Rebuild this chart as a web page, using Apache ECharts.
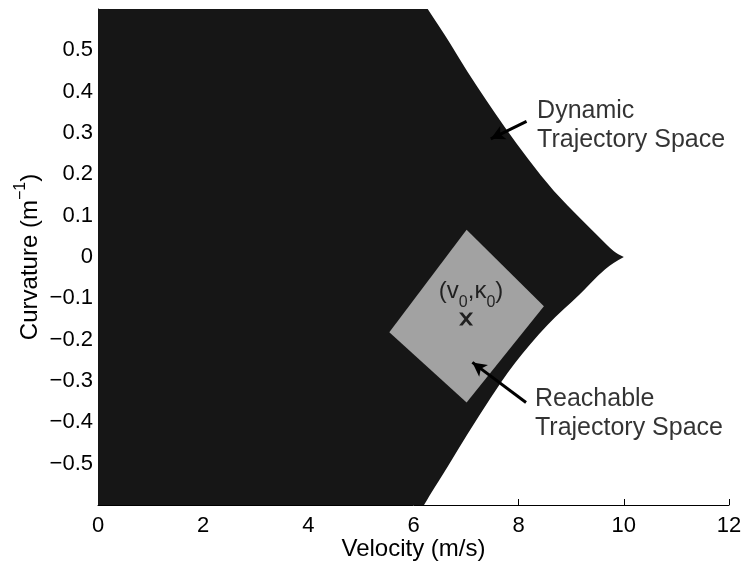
<!DOCTYPE html>
<html>
<head>
<meta charset="utf-8">
<script src="https://cdn.jsdelivr.net/npm/echarts@6/dist/echarts.min.js"></script>
<style>
  html, body { margin: 0; padding: 0; background: #fff; }
  #chart { width: 743px; height: 563px; }
</style>
</head>
<body>
<div id="chart"></div>
<script>
// upper edge of the dynamic trajectory space
const velTop = [6.27, 6.45, 6.64, 7.02, 7.40, 7.75, 8.17, 8.67, 9.18, 9.50, 9.81, 10.0];
const curvTop = [0.6, 0.565, 0.529, 0.449, 0.376, 0.311, 0.238, 0.158, 0.092, 0.052, 0.012, 0];
// lower edge, from the tip back to the bottom
const velBottom = [9.78, 9.50, 9.18, 8.55, 7.90, 7.47, 7.02, 6.64, 6.32, 6.20];
const curvBottom = [-0.015, -0.045, -0.089, -0.162, -0.259, -0.340, -0.429, -0.510, -0.574, -0.6];

// reachable trajectory space (quadrilateral)
const reachVel = [7.01, 8.48, 7.01, 5.54];
const reachCurv = [0.066, -0.119, -0.352, -0.182];

// current state (v0, k0)
const stateVel = [7.0];
const stateCurv = [-0.15];

const xTicks = [0, 2, 4, 6, 8, 10, 12];
const yTicks = [-0.5, -0.4, -0.3, -0.2, -0.1, 0, 0.1, 0.2, 0.3, 0.4, 0.5];

const FONT = "'Liberation Sans', Arial, Helvetica, sans-serif";

const topEdge = velTop.map((v, i) => [v, curvTop[i]]);
const bottomEdge = [[10.0, 0]].concat(velBottom.map((v, i) => [v, curvBottom[i]]));
const reachPts = reachVel.map((v, i) => [v, reachCurv[i]]);

function fmtY(v) {
  const r = Math.round(v * 10) / 10;
  if (!yTicks.some(t => Math.abs(t - r) < 1e-6)) return '';
  if (r === 0) return '0';
  return (r < 0 ? '\u2212' : '') + Math.abs(r).toFixed(1);
}

// smooth curve through points: quadratic segments via midpoints
function smoothPath(pts) {
  let d = 'L' + pts[0][0] + ',' + pts[0][1];
  for (let i = 1; i < pts.length - 1; i++) {
    const mx = (pts[i][0] + pts[i + 1][0]) / 2;
    const my = (pts[i][1] + pts[i + 1][1]) / 2;
    d += ' Q' + pts[i][0] + ',' + pts[i][1] + ' ' + mx + ',' + my;
  }
  const last = pts[pts.length - 1];
  d += ' L' + last[0] + ',' + last[1];
  return d;
}

function dynamicItem(params, api) {
  const tl = api.coord([0, 0.6]);
  const bl = api.coord([0, -0.6]);
  const up = topEdge.map(p => api.coord(p));
  const low = bottomEdge.map(p => api.coord(p));
  let d = 'M' + tl[0] + ',' + tl[1] + ' ';
  d += smoothPath(up) + ' ';
  d += smoothPath(low) + ' ';
  d += 'L' + bl[0] + ',' + bl[1] + ' Z';
  return {
    type: 'path',
    shape: { pathData: d },
    style: { fill: '#161616' },
    silent: true
  };
}

function reachItem(params, api) {
  return {
    type: 'polygon',
    shape: { points: reachPts.map(p => api.coord(p)) },
    style: { fill: '#a2a2a2' },
    silent: true
  };
}

const chart = echarts.init(document.getElementById('chart'));
chart.setOption({
  animation: false,
  backgroundColor: '#fff',
  textStyle: { fontFamily: FONT },
  grid: { left: 98, right: 14, top: 9, bottom: 58, containLabel: false, outerBoundsMode: 'none' },
  xAxis: {
    type: 'value',
    min: 0, max: 12, interval: 2,
    name: 'Velocity (m/s)',
    nameLocation: 'middle',
    nameGap: 32,
    nameMoveOverlap: false,
    nameTextStyle: { fontSize: 24, color: '#000', fontFamily: FONT },
    axisLine: { show: true, onZero: false, lineStyle: { color: '#000', width: 1 } },
    axisTick: { show: true, inside: true, length: 6, lineStyle: { color: '#000' } },
    axisLabel: {
      color: '#000', fontSize: 22, fontFamily: FONT, margin: 10,
      formatter: v => xTicks.includes(v) ? String(v) : ''
    },
    splitLine: { show: false }
  },
  yAxis: {
    type: 'value',
    min: -0.6, max: 0.6, interval: 0.1,
    name: 'Curvature (m{sup|\u22121})',
    nameLocation: 'middle',
    nameGap: 68,
    nameMoveOverlap: false,
    nameTextStyle: {
      fontSize: 24, color: '#000', fontFamily: FONT, lineHeight: 34, verticalAlign: 'middle',
      rich: {
        sup: { fontSize: 16, color: '#000', fontFamily: FONT, verticalAlign: 'top', lineHeight: 34 }
      }
    },
    axisLine: { show: true, onZero: false, lineStyle: { color: '#000', width: 1 } },
    axisTick: { show: true, inside: true, length: 6, lineStyle: { color: '#000' } },
    axisLabel: { color: '#000', fontSize: 22, fontFamily: FONT, margin: 5, formatter: fmtY },
    splitLine: { show: false }
  },
  series: [
    {
      name: 'Dynamic Trajectory Space',
      type: 'custom',
      renderItem: dynamicItem,
      data: [[0, 0]],
      clip: true,
      z: 1,
      silent: true
    },
    {
      name: 'Reachable Trajectory Space',
      type: 'custom',
      renderItem: reachItem,
      data: [[7, 0]],
      z: 2,
      silent: true
    },
    {
      name: 'state',
      type: 'scatter',
      z: 5,
      silent: true,
      symbol: 'path://M0,0 L3,0 L6,3.6 L9,0 L12,0 L7.5,5.5 L12,11 L9,11 L6,7.4 L3,11 L0,11 L4.5,5.5 Z',
      symbolSize: [14, 13],
      itemStyle: { color: '#000' },
      data: stateVel.map((v, i) => [v, stateCurv[i]]),
      label: {
        show: true,
        position: 'top',
        distance: 2,
        offset: [5, 0],
        formatter: '(v{s|0},\u03ba{s|0})',
        color: '#000',
        fontSize: 24,
        fontFamily: FONT,
        lineHeight: 30,
        rich: {
          s: { fontSize: 16, color: '#000', fontFamily: FONT, verticalAlign: 'bottom', lineHeight: 38 }
        }
      },
      markLine: {
        silent: true,
        symbol: ['none', 'arrow'],
        symbolSize: [11, 14],
        label: { show: false },
        lineStyle: { color: '#000', width: 3, type: 'solid' },
        data: [
          [{ coord: [8.15, 0.328] }, { coord: [7.47, 0.286] }],
          [{ coord: [8.14, -0.352] }, { coord: [7.12, -0.255] }]
        ]
      }
    },
    {
      name: 'notes',
      type: 'scatter',
      z: 6,
      silent: true,
      symbolSize: 0,
      data: [
        { value: [8.35, 0.318], name: 'Dynamic\nTrajectory Space' },
        { value: [8.31, -0.38], name: 'Reachable\nTrajectory Space' }
      ],
      label: {
        show: true,
        position: 'right',
        distance: 0,
        formatter: p => p.name,
        color: '#000',
        fontSize: 25,
        fontFamily: FONT,
        lineHeight: 29,
        align: 'left'
      }
    }
  ]
});
</script>
</body>
</html>
